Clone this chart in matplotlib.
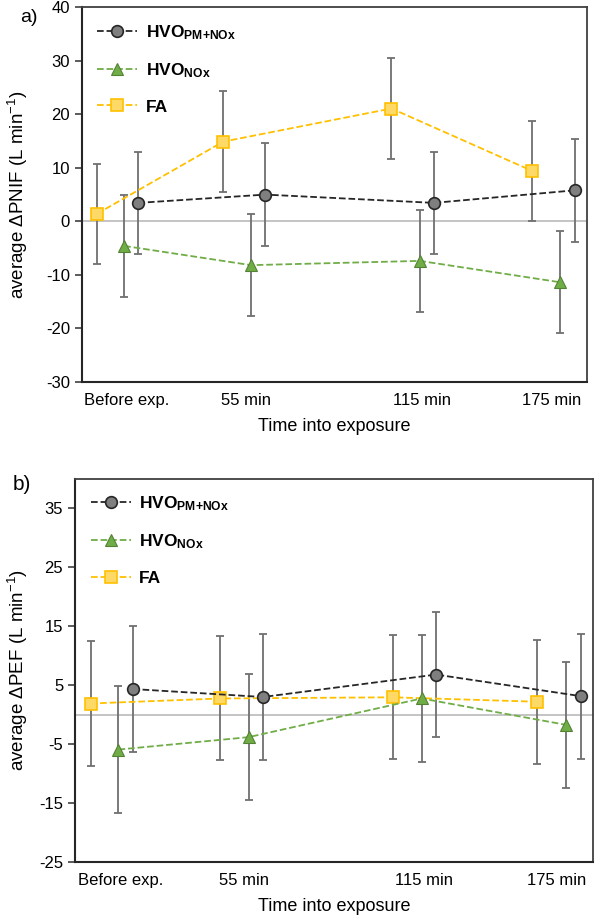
import numpy as np
import matplotlib
matplotlib.use("Agg")
import matplotlib.pyplot as plt

plt.rcParams['font.family'] = ['Liberation Sans', 'DejaVu Sans']
plt.rcParams['mathtext.fontset'] = 'custom'
plt.rcParams['mathtext.rm'] = 'Liberation Sans'
plt.rcParams['mathtext.bf'] = 'Liberation Sans:bold'
plt.rcParams['mathtext.it'] = 'Liberation Sans:italic'
plt.rcParams['axes.unicode_minus'] = False

# x positions (arbitrary time units, groups are slightly offset)
x_fa = [3.0, 28.0, 61.3, 89.2]
x_nox = [8.4, 33.5, 66.9, 94.7]
x_pm = [11.2, 36.3, 69.7, 97.6]
tick_pos = [8.9, 32.6, 67.3, 92.9]
tick_labels = ["Before exp.", "55 min", "115 min", "175 min"]

# a) PNIF
pnif_pm = [3.45, 5.0, 3.45, 5.8]
pnif_pm_err = [9.5, 9.6, 9.5, 9.6]
pnif_nox = [-4.6, -8.2, -7.4, -11.4]
pnif_nox_err = [9.6, 9.6, 9.6, 9.5]
pnif_fa = [1.4, 14.9, 21.1, 9.4]
pnif_fa_err = [9.4, 9.4, 9.5, 9.4]

# b) PEF
pef_pm = [4.35, 3.0, 6.8, 3.15]
pef_pm_err = [10.6, 10.7, 10.6, 10.6]
pef_nox = [-5.9, -3.8, 2.75, -1.7]
pef_nox_err = [10.7, 10.7, 10.7, 10.7]
pef_fa = [1.9, 2.75, 2.95, 2.2]
pef_fa_err = [10.6, 10.5, 10.5, 10.5]

lab_pm = r'$\mathbf{HVO}_{\mathbf{PM{+}NOx}}$'
lab_nox = r'$\mathbf{HVO}_{\mathbf{NOx}}$'
lab_fa = 'FA'


def draw(ax, pm, pm_err, nox, nox_err, fa, fa_err, ylim, yticks, ylabel):
    ax.axhline(0, color='#BFBFBF', lw=1.3, zorder=1)
    for xs, ys, es in [(x_fa, fa, fa_err), (x_nox, nox, nox_err), (x_pm, pm, pm_err)]:
        ax.errorbar(xs, ys, yerr=es, fmt='none', ecolor='#707070', elinewidth=1.3,
                    capsize=3, capthick=1.3, zorder=2)
    ax.plot(x_pm, pm, '--o', color='#262626', lw=1.3, ms=8.4, mfc='#7F7F7F',
            mec='#262626', mew=1.2, label=lab_pm, zorder=4)
    ax.plot(x_nox, nox, '--^', color='#70AD47', lw=1.3, ms=8.6, mfc='#70AD47',
            mec='#548235', mew=0.8, label=lab_nox, zorder=4)
    ax.plot(x_fa, fa, '--s', color='#FFC000', lw=1.3, ms=8.4, mfc='#FFD966',
            mec='#FFC000', mew=1.2, label=lab_fa, zorder=3)
    ax.set_xlim(0, 100)
    ax.set_ylim(*ylim)
    ax.set_yticks(yticks)
    ax.set_xticks(tick_pos)
    ax.set_xticklabels(tick_labels)
    ax.tick_params(axis='x', length=0, pad=8, labelsize=12)
    ax.tick_params(axis='y', length=5, width=1.2, labelsize=12, color='#404040')
    for s in ['top', 'right']:
        ax.spines[s].set_color('#404040')
        ax.spines[s].set_linewidth(1.3)
    for s in ['left', 'bottom']:
        ax.spines[s].set_color('#262626')
        ax.spines[s].set_linewidth(1.5)
    ax.set_xlabel('Time into exposure', fontsize=13, labelpad=7)
    ax.set_ylabel(ylabel, fontsize=13.5)
    leg = ax.legend(loc='upper left', frameon=False, fontsize=12.5, handlelength=2.3,
                    labelspacing=1.12, handletextpad=0.5, borderaxespad=0.5)
    for t in leg.get_texts():
        t.set_fontweight('bold')


fig = plt.figure(figsize=(5.97, 9.22), dpi=100)
ax1 = fig.add_axes([0.1369, 0.586, 0.8464, 0.4059])
ax2 = fig.add_axes([0.1256, 0.0647, 0.8677, 0.4163])

draw(ax1, pnif_pm, pnif_pm_err, pnif_nox, pnif_nox_err, pnif_fa, pnif_fa_err,
     (-30, 40), np.arange(-30, 41, 10), r'average $\Delta$PNIF (L min$^{-1}$)')
draw(ax2, pef_pm, pef_pm_err, pef_nox, pef_nox_err, pef_fa, pef_fa_err,
     (-25, 40), np.arange(-25, 36, 10), r'average $\Delta$PEF (L min$^{-1}$)')

ax1.yaxis.set_label_coords(-0.102, 0.5)
ax2.yaxis.set_label_coords(-0.087, 0.5)

fig.text(0.034, 0.981, 'a)', fontsize=14, va='center')
fig.text(0.022, 0.474, 'b)', fontsize=15, va='center')

fig.savefig('out.png', dpi=100)
